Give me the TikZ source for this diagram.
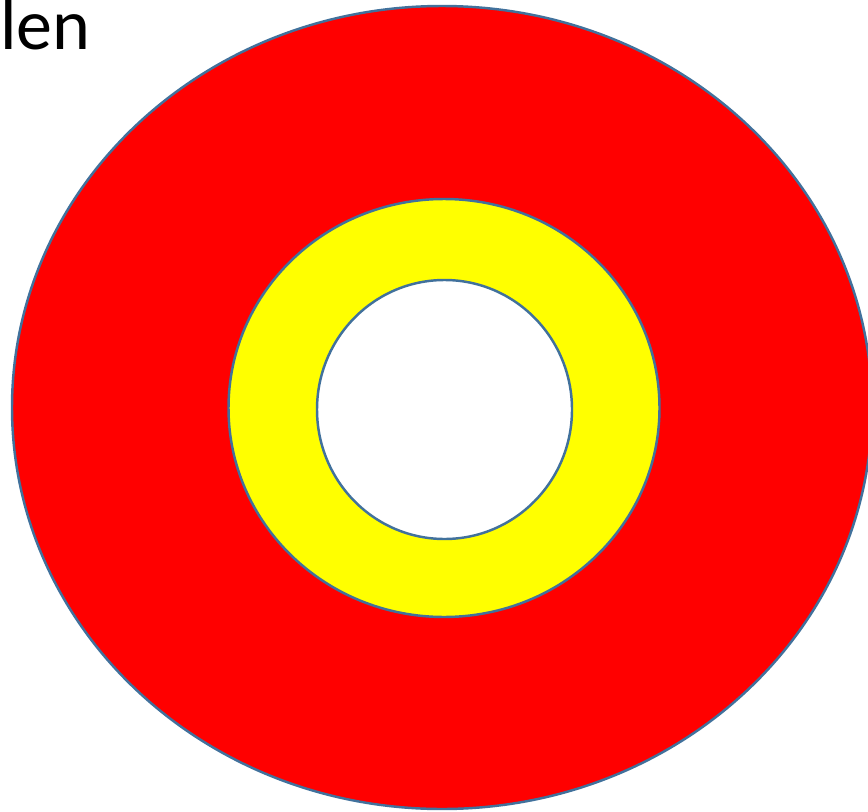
\documentclass[tikz,border=0pt]{standalone}
\usepackage{fontspec}
\setmainfont{Carlito}
\usetikzlibrary{calc, positioning}

\definecolor{ringline}{HTML}{41719C}
\definecolor{ringred}{HTML}{FF0000}
\definecolor{ringyellow}{HTML}{FFFF00}

\tikzset{
  ring/.style={draw=ringline, line width=1.4pt},
}

\begin{document}
\begin{tikzpicture}[x=0.02cm, y=-0.02cm]
\def\Cx{444}
\def\Cy{408}

\useasboundingbox (0,0) rectangle (868,811);

\coordinate (O) at (\Cx,\Cy);
\coordinate (M) at (442,407.5);

% outer, middle and inner ring
\draw[ring, fill=ringred] (M) ellipse [x radius=430, y radius=401.5];
\draw[ring, fill=ringyellow] (O) ellipse [x radius=215.5, y radius=209];
\draw[ring, fill=white] (444.5,409.5) ellipse [x radius=127.5, y radius=129.5];

\node[anchor=base west, inner sep=0pt, font=\fontsize{41}{48}\selectfont] (title) at (0,50) {len};
\end{tikzpicture}
\end{document}
